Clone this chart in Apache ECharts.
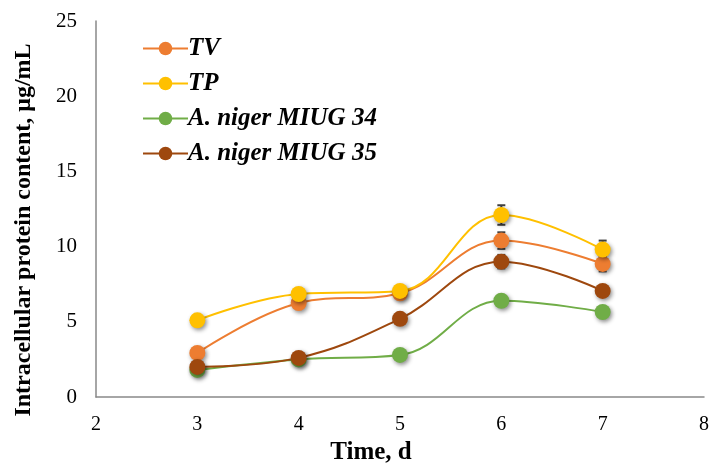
<!DOCTYPE html>
<html>
<head>
<meta charset="utf-8">
<script src="https://cdn.jsdelivr.net/npm/echarts@6/dist/echarts.min.js"></script>
<style>html,body{margin:0;padding:0;background:#fff}#c{width:712px;height:463px}</style>
</head>
<body>
<div id="c"></div>
<script>
const days = [3, 4, 5, 6, 7];
const seriesNames = ['TV', 'TP', 'A. niger MIUG 34', 'A. niger MIUG 35'];
const tvValues = [2.93, 6.25, 6.9, 10.4, 8.85];
const tpValues = [5.1, 6.85, 7.05, 12.1, 9.8];
const miug34Values = [1.8, 2.5, 2.8, 6.4, 5.65];
const miug35Values = [2.0, 2.6, 5.2, 9.0, 7.05];
const tvErr = [0.2, 0.3, 0.3, 0.55, 0.5];
const tpErr = [0.2, 0.35, 0.35, 0.65, 0.6];
const miug34Err = [0.1, 0.1, 0.2, 0.3, 0.3];
const miug35Err = [0.1, 0.2, 0.2, 0.45, 0.3];
const xTicks = [2, 3, 4, 5, 6, 7, 8];
const yTicks = [0, 5, 10, 15, 20, 25];

const colors = ['#ED7D31', '#FFC000', '#70AD47', '#9E480E'];
const values = [tvValues, tpValues, miug34Values, miug35Values];
const errs = [tvErr, tpErr, miug34Err, miug35Err];
const font = 'Liberation Serif, Times New Roman, serif';

const chart = echarts.init(document.getElementById('c'));
const series = [];
values.forEach((vals, i) => {
  series.push({
    type: 'custom',
    silent: true,
    z: 1,
    data: days.map((d, k) => [d, vals[k] - errs[i][k], vals[k] + errs[i][k]]),
    renderItem: function (params, api) {
      const x = api.value(0);
      const lo = api.coord([x, api.value(1)]);
      const hi = api.coord([x, api.value(2)]);
      const w = 4;
      const st = { stroke: '#404040', lineWidth: 2 };
      return {
        type: 'group',
        children: [
          { type: 'line', shape: { x1: lo[0], y1: lo[1], x2: hi[0], y2: hi[1] }, style: st },
          { type: 'line', shape: { x1: hi[0] - w, y1: hi[1], x2: hi[0] + w, y2: hi[1] }, style: st },
          { type: 'line', shape: { x1: lo[0] - w, y1: lo[1], x2: lo[0] + w, y2: lo[1] }, style: st }
        ]
      };
    }
  });
});
values.forEach((vals, i) => {
  series.push({
    name: seriesNames[i],
    type: 'line',
    smooth: 0.4,
    z: 3,
    data: days.map((d, k) => [d, vals[k]]),
    symbol: 'circle',
    symbolSize: 16,
    lineStyle: { color: colors[i], width: 2 },
    itemStyle: {
      color: colors[i],
      shadowBlur: 4,
      shadowColor: 'rgba(0,0,0,0.45)',
      shadowOffsetX: 1.5,
      shadowOffsetY: 2
    }
  });
});

chart.setOption({
  animation: false,
  color: colors,
  grid: { left: 96, right: 4, top: 21, bottom: 66, containLabel: false },
  legend: {
    data: seriesNames,
    orient: 'vertical',
    left: 137,
    top: 31,
    itemWidth: 45,
    itemHeight: 17,
    itemGap: 10,
    textStyle: { fontFamily: font, fontSize: 25, fontWeight: 'bold', fontStyle: 'italic', color: '#000', padding: [0, 0, 0, -5] }
  },
  xAxis: {
    type: 'value',
    min: xTicks[0],
    max: xTicks[xTicks.length - 1],
    interval: 1,
    axisLine: { lineStyle: { color: '#898989', width: 1.5 } },
    axisTick: { show: false },
    splitLine: { show: false },
    axisLabel: { fontFamily: font, fontSize: 20, color: '#000', margin: 18 }
  },
  yAxis: {
    type: 'value',
    min: yTicks[0],
    max: yTicks[yTicks.length - 1],
    interval: 5,
    axisLine: { show: true, lineStyle: { color: '#898989', width: 1.5 } },
    axisTick: { show: false },
    splitLine: { show: false },
    axisLabel: { fontFamily: font, fontSize: 21, color: '#000', margin: 19 }
  },
  graphic: [{
    type: 'text',
    x: 24,
    y: 230,
    rotation: Math.PI / 2,
    style: {
      text: 'Intracellular protein content, μg/mL',
      fontFamily: font,
      fontSize: 24,
      fontWeight: 'bold',
      fill: '#000',
      align: 'center',
      verticalAlign: 'middle'
    }
  }, {
    type: 'text',
    x: 371,
    y: 453,
    style: {
      text: 'Time, d',
      fontFamily: font,
      fontSize: 25,
      fontWeight: 'bold',
      fill: '#000',
      align: 'center',
      verticalAlign: 'middle'
    }
  }],
  series: series
});
</script>
</body>
</html>
